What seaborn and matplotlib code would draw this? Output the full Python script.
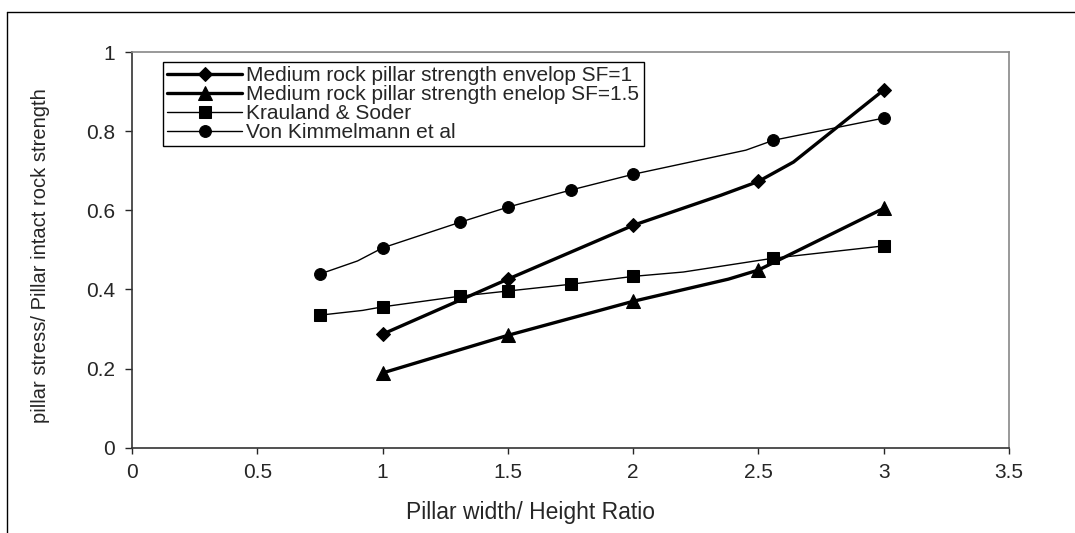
import matplotlib
matplotlib.use("Agg")
import matplotlib.pyplot as plt
from matplotlib.lines import Line2D
import seaborn as sns

# values (x = width/height ratio)
x_sf1 = [1.0, 1.5, 2.0, 2.35, 2.5, 2.64, 3.0]
y_sf1 = [0.287, 0.426, 0.562, 0.638, 0.673, 0.722, 0.904]
mk_sf1 = [0, 1, 2, 4, 6]

x_sf15 = [1.0, 1.5, 2.0, 2.38, 2.5, 3.0]
y_sf15 = [0.189, 0.284, 0.370, 0.426, 0.449, 0.605]
mk_sf15 = [0, 1, 2, 4, 5]

x_kr = [0.75, 0.92, 1.0, 1.31, 1.5, 1.75, 2.0, 2.2, 2.56, 3.0]
y_kr = [0.335, 0.347, 0.356, 0.383, 0.396, 0.413, 0.433, 0.444, 0.479, 0.510]
mk_kr = [0, 2, 3, 4, 5, 6, 8, 9]

x_vk = [0.75, 0.9, 1.0, 1.31, 1.5, 1.75, 2.0, 2.45, 2.56, 3.0]
y_vk = [0.439, 0.472, 0.505, 0.570, 0.608, 0.651, 0.691, 0.752, 0.777, 0.833]
mk_vk = [0, 2, 3, 4, 5, 6, 8, 9]

labels = ["Medium rock pillar strength envelop SF=1",
          "Medium rock pillar strength enelop SF=1.5",
          "Krauland & Soder",
          "Von Kimmelmann et al"]

sns.set_style("white")
plt.rcParams["font.family"] = ["Liberation Sans", "DejaVu Sans"]

fig = plt.figure(figsize=(10.75, 5.33), dpi=100)
ax = fig.add_axes([0.1228, 0.1600, 0.8158, 0.7424])

common = dict(color="black", markeredgecolor="black", markerfacecolor="black",
              errorbar=None, ax=ax)
sns.lineplot(x=x_sf1, y=y_sf1, marker="D", markersize=7, linewidth=2.4,
             markevery=mk_sf1, label=labels[0], **common)
sns.lineplot(x=x_sf15, y=y_sf15, marker="^", markersize=9.5, linewidth=2.4,
             markevery=mk_sf15, label=labels[1], **common)
sns.lineplot(x=x_kr, y=y_kr, marker="s", markersize=8, linewidth=1.0,
             markevery=mk_kr, label=labels[2], **common)
sns.lineplot(x=x_vk, y=y_vk, marker="o", markersize=8.5, linewidth=1.0,
             markevery=mk_vk, label=labels[3], **common)

ax.set_xlim(0, 3.5)
ax.set_ylim(0, 1)
ax.set_xticks([0, 0.5, 1, 1.5, 2, 2.5, 3, 3.5])
ax.set_xticklabels(["0", "0.5", "1", "1.5", "2", "2.5", "3", "3.5"])
ax.set_yticks([0, 0.2, 0.4, 0.6, 0.8, 1])
ax.set_yticklabels(["0", "0.2", "0.4", "0.6", "0.8", "1"])
ax.tick_params(axis="x", direction="out", length=4, width=1, pad=6.8, labelsize=15, bottom=True)
ax.tick_params(axis="y", direction="out", length=5, width=1, pad=7, labelsize=15, left=True)

for s in ["left", "bottom"]:
    ax.spines[s].set_color("#333333")
    ax.spines[s].set_linewidth(1.2)
for s in ["top", "right"]:
    ax.spines[s].set_color("#888888")
    ax.spines[s].set_linewidth(1.2)

ax.set_xlabel("Pillar width/ Height Ratio", fontsize=16.5)
ax.xaxis.set_label_coords(0.454, -0.1337)
ax.set_ylabel("pillar stress/ Pillar intact rock strength", fontsize=14.5)
ax.yaxis.set_label_coords(-0.093, 0.4845)

leg = ax.legend(loc="upper left", bbox_to_anchor=(0.0354, 0.975), fontsize=15,
                frameon=True, fancybox=False, edgecolor="black", framealpha=1,
                handlelength=3.6, handletextpad=0.2, labelspacing=0.0,
                borderpad=0.2, borderaxespad=0)
leg.get_frame().set_linewidth(1.0)

# outer chart frame (only top and left edges visible in the crop)
fig.add_artist(Line2D([0.0065, 1.0], [0.9784, 0.9784], color="black", lw=1.0))
fig.add_artist(Line2D([0.0065, 0.0065], [0.0, 0.9784], color="black", lw=1.0))

fig.savefig("out.png", dpi=100)
